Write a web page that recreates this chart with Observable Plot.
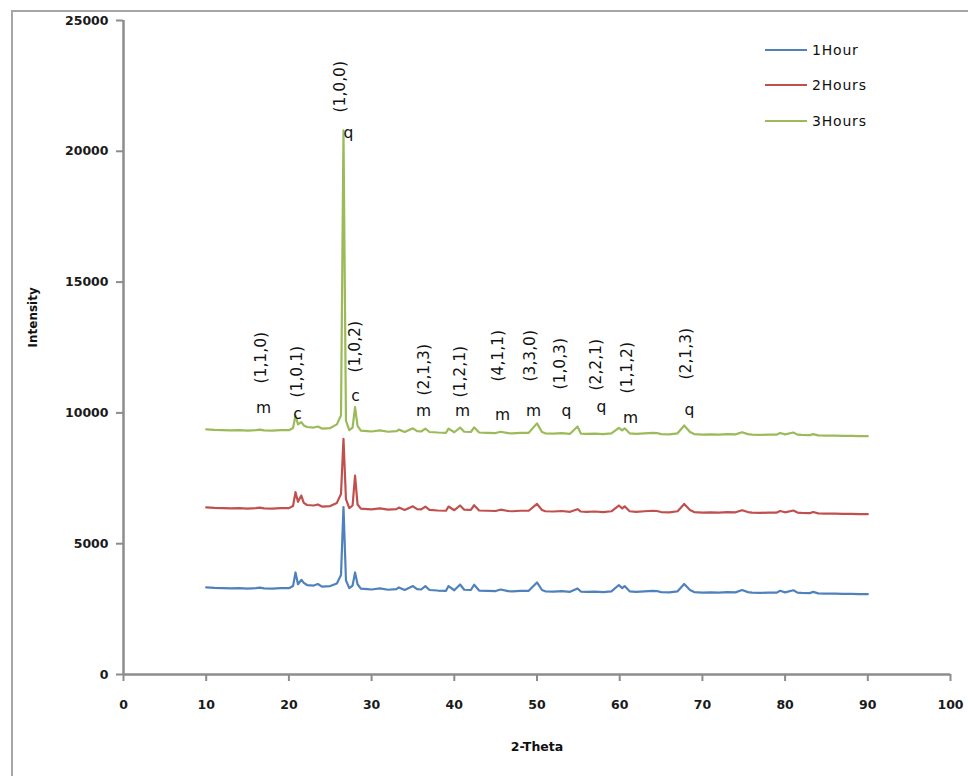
<!DOCTYPE html>
<html><head><meta charset="utf-8">
<script src="https://cdn.jsdelivr.net/npm/d3@7"></script>
<script src="https://cdn.jsdelivr.net/npm/@observablehq/plot@0.6"></script>
<style>
html,body{margin:0;padding:0;background:#fff;}
#wrap{position:relative;width:968px;height:776px;overflow:hidden;}
#frame{position:absolute;left:11px;top:10px;width:980px;height:800px;border-top:2px solid #a6a6a6;border-left:2px solid #a6a6a6;}
#chart{position:absolute;left:0;top:0;}
#legend{position:absolute;left:765px;top:32px;font-family:"DejaVu Sans";font-size:14px;color:#111;}
.item{display:flex;align-items:center;height:35.5px;letter-spacing:0.8px;}
.sw{width:42px;height:2px;margin-right:5px}
</style></head>
<body>
<div id="wrap"><div id="frame"></div><div id="chart"></div><div id="legend"></div></div>
<script>
const seriesNames = ["1Hour", "2Hours", "3Hours"];
const seriesColors = ["#4F81BD", "#C0504D", "#9BBB59"];

const theta = [
  10,11,12,13,14,15,16,16.5,17,18,
  19,20,20.5,20.8,21.1,21.5,21.8,22.2,23,23.5,
  24,25,25.8,26.3,26.6,26.9,27.3,27.7,28,28.3,
  28.7,29.5,30,31,32,33,33.3,34,35,35.5,
  36,36.5,37,38,39,39.3,40,40.7,41.2,42,
  42.4,43,44,45,45.6,46.5,47,48,49,50,
  50.6,51,52,53,54,54.9,55.3,56,57,58,
  59,59.9,60.3,60.6,61.2,62,63,64,64.5,65,
  66,67,67.8,68.5,69,70,71,72,73,74,
  74.8,75.5,76,77,78,79,79.4,80,81,81.5,
  82,83,83.4,84,85,86,87,88,89,90
];
const hour1 = [
  3330,3310,3300,3290,3300,3280,3300,3320,3290,3280,
  3300,3300,3380,3900,3450,3620,3500,3420,3400,3460,
  3360,3380,3480,3800,6400,3600,3300,3400,3900,3450,
  3280,3260,3250,3290,3240,3260,3330,3230,3380,3260,
  3250,3380,3230,3210,3200,3380,3220,3440,3240,3230,
  3430,3210,3200,3190,3250,3190,3180,3200,3200,3520,
  3230,3180,3170,3190,3160,3290,3170,3160,3170,3150,
  3180,3420,3300,3380,3180,3160,3180,3200,3190,3150,
  3140,3180,3460,3230,3150,3130,3140,3130,3150,3140,
  3230,3150,3130,3120,3130,3130,3200,3140,3220,3130,
  3120,3110,3160,3100,3090,3090,3080,3080,3070,3070
];
const hours2 = [
  6390,6370,6360,6350,6360,6340,6360,6380,6350,6340,
  6360,6360,6440,6970,6600,6840,6560,6480,6460,6500,
  6420,6440,6560,6900,9010,6700,6360,6460,7600,6500,
  6340,6320,6310,6350,6300,6320,6380,6290,6430,6320,
  6310,6420,6290,6270,6260,6420,6280,6460,6300,6290,
  6470,6270,6260,6250,6300,6250,6240,6260,6260,6520,
  6290,6240,6230,6250,6220,6320,6230,6220,6230,6210,
  6240,6460,6350,6430,6240,6220,6240,6260,6250,6210,
  6200,6240,6520,6290,6210,6190,6200,6190,6210,6200,
  6280,6210,6190,6180,6190,6190,6250,6200,6270,6190,
  6180,6170,6210,6160,6150,6150,6140,6140,6130,6130
];
const hours3 = [
  9370,9350,9340,9330,9340,9320,9340,9360,9330,9320,
  9340,9340,9420,9900,9560,9650,9520,9460,9440,9480,
  9400,9420,9560,9900,20800,9700,9340,9440,10220,9500,
  9320,9300,9290,9330,9280,9300,9360,9270,9410,9300,
  9290,9400,9270,9250,9240,9400,9260,9440,9280,9270,
  9450,9250,9240,9230,9280,9230,9220,9240,9240,9600,
  9270,9220,9210,9230,9200,9480,9210,9200,9210,9190,
  9220,9430,9330,9410,9220,9200,9220,9240,9230,9190,
  9180,9220,9520,9270,9190,9170,9180,9170,9190,9180,
  9260,9190,9170,9160,9170,9170,9230,9180,9250,9170,
  9160,9150,9190,9140,9130,9130,9120,9120,9110,9110
];

const hklLabels = ["(1,1,0)","(1,0,1)","(1,0,0)","(1,0,2)","(2,1,3)","(1,2,1)","(4,1,1)","(3,3,0)","(1,0,3)","(2,2,1)","(1,1,2)","(2,1,3)"];
const hklTheta  = [16.57,21.04,26.24,28.05,36.28,40.75,45.34,49.21,52.84,57.19,60.94,68.08];
const hklBase   = [11124,10589,21483,11544,10665,10589,11200,11200,10894,10856,10741,11277];
const phaseLabels = ["m","c","q","c","m","m","m","m","q","q","m","q"];
const phaseTheta  = [16.93,21.04,27.21,28.05,36.28,40.99,45.83,49.58,53.57,57.80,61.31,68.44];
const phaseY      = [10168,9939,20680,10627,10053,10053,9901,10053,10053,10206,9786,10092];

const xTicks = [0,10,20,30,40,50,60,70,80,90,100];
const yTicks = [0,5000,10000,15000,20000,25000];

const seriesValues = [hour1, hours2, hours3];
const data = [];
seriesNames.forEach((name, s) => {
  theta.forEach((t, i) => data.push({theta: t, value: seriesValues[s][i], series: name}));
});
const hkl = hklLabels.map((l, i) => ({label: l, theta: hklTheta[i], y: hklBase[i]}));
const phases = phaseLabels.map((l, i) => ({label: l, theta: phaseTheta[i], y: phaseY[i]}));

const axisGray = "#8c8c8c";
const chart = Plot.plot({
  width: 968, height: 776,
  marginLeft: 123, marginRight: 18, marginTop: 20, marginBottom: 102,
  x: {domain: [0, 100]},
  y: {domain: [0, 25000]},
  color: {domain: seriesNames, range: seriesColors},
  style: {fontFamily: "DejaVu Sans", fontSize: "11px", color: "#000", background: "transparent", overflow: "visible"},
  marks: [
    Plot.axisX({ticks: xTicks, tickSize: 7, tickPadding: 19, stroke: axisGray, strokeWidth: 2, label: null, tickFormat: d3.format("d"), fontSize: 12.5, fontWeight: "bold", fill: "#1a1a1a"}),
    Plot.axisY({ticks: yTicks, tickSize: 7, tickPadding: 8, stroke: axisGray, strokeWidth: 2, label: null, tickFormat: d3.format("d"), fontSize: 12.5, fontWeight: "bold", fill: "#1a1a1a"}),
    Plot.ruleY([0], {stroke: axisGray, strokeWidth: 2.5}),
    Plot.ruleX([0], {stroke: axisGray, strokeWidth: 2.5}),
    Plot.line(data, {x: "theta", y: "value", z: "series", stroke: "series", strokeWidth: 2.2}),
    Plot.text(hkl, {x: "theta", y: "y", text: "label", rotate: -90, textAnchor: "start", lineAnchor: "middle", fontSize: 15.5, fill: "#111"}),
    Plot.text(phases, {x: "theta", y: "y", text: "label", lineAnchor: "middle", fontSize: 15.5, fill: "#111"}),
    Plot.text(["Intensity"], {frameAnchor: "left", dx: -90, rotate: -90, fontSize: 12, fontWeight: "bold", fill: "#111"}),
    Plot.text(["2-Theta"], {frameAnchor: "bottom", dy: 76, fontSize: 12.5, fontWeight: "bold", fill: "#111"})
  ]
});
document.getElementById("chart").appendChild(chart);

const legend = document.getElementById("legend");
seriesNames.forEach((name, i) => {
  const row = document.createElement("div");
  row.className = "item";
  const sw = document.createElement("div");
  sw.className = "sw";
  sw.style.background = seriesColors[i];
  row.appendChild(sw);
  row.appendChild(document.createTextNode(name));
  legend.appendChild(row);
});
</script>
</body></html>
